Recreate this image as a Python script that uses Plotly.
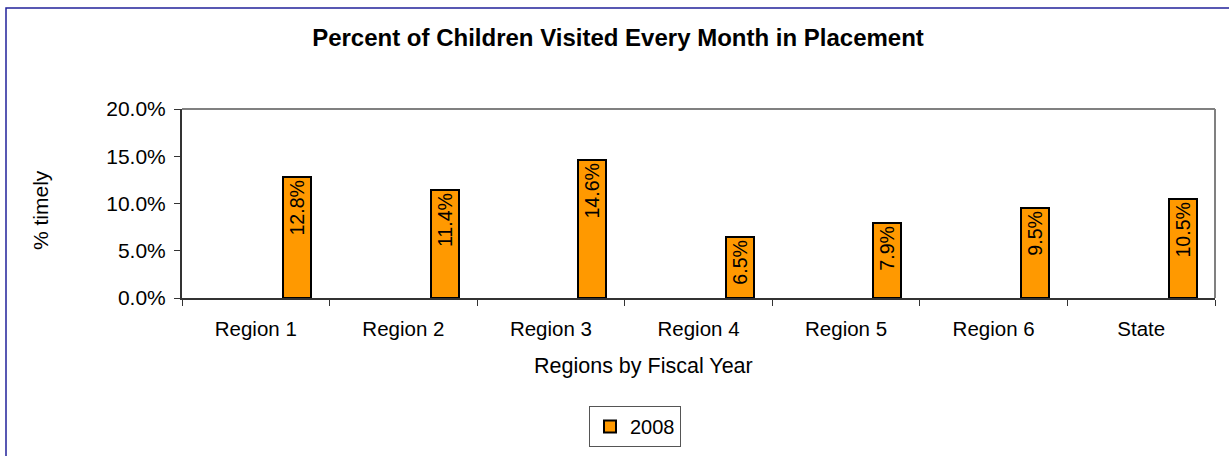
import plotly.graph_objects as go

categories = ["Region 1", "Region 2", "Region 3", "Region 4", "Region 5", "Region 6", "State"]
values_2008 = [0.128, 0.114, 0.146, 0.065, 0.079, 0.095, 0.105]
series_name = "2008"

W, H = 1229, 456
L, R, T, B = 182, 14, 109, 158
pw, ph = W - L - R, H - T - B

def px_x(x):
    return (x - L) / pw

def px_y(y):
    return (H - B - y) / ph

FONT = "Liberation Sans, Arial, sans-serif"

fig = go.Figure()
fig.add_trace(go.Bar(
    x=categories,
    y=values_2008,
    name=series_name,
    width=0.19,
    offset=0.185,
    marker=dict(color="#FF9900", line=dict(color="#000000", width=2)),
    text=[f"{v*100:.1f}%" for v in values_2008],
    textposition="inside",
    insidetextanchor="end",
    textangle=-90,
    textfont=dict(family=FONT, size=20.5, color="#000000"),
    showlegend=True,
))

fig.update_layout(
    width=W, height=H,
    margin=dict(l=L, r=R, t=T, b=B, pad=0, autoexpand=False),
    paper_bgcolor="white",
    plot_bgcolor="white",
    font=dict(family=FONT, size=20.5, color="#000000"),
    showlegend=True,
    legend=dict(
        x=635 / W, xref="container", xanchor="center",
        y=1 - 426.5 / H, yref="container", yanchor="middle",
        bordercolor="#555555", borderwidth=1, bgcolor="white",
        font=dict(family=FONT, size=20, color="#000000"),
        itemwidth=30,
    ),
    title=dict(
        text="<b>Percent of Children Visited Every Month in Placement</b>",
        x=px_x(618), xref="paper", xanchor="center",
        y=1 - 38 / H, yref="container", yanchor="middle",
        font=dict(family=FONT, size=24, color="#000000"),
    ),
    bargap=0,
)

fig.update_xaxes(
    type="category",
    showline=True, linecolor="#333333", linewidth=2,
    ticks="outside", tickson="boundaries", ticklen=6, tickcolor="#333333", tickwidth=1,
    ticklabelstandoff=11,
    showgrid=False, zeroline=False,
    tickfont=dict(family=FONT, size=20.5, color="#000000"),
)
fig.update_yaxes(
    range=[0, 0.2], dtick=0.05, tickformat=".1%",
    showline=True, linecolor="#333333", linewidth=2,
    ticks="outside", ticklen=6, tickcolor="#333333", tickwidth=1,
    ticklabelstandoff=4,
    showgrid=False, zeroline=False,
    tickfont=dict(family=FONT, size=21, color="#000000"),
)

# plot-area top/right border (gray) and outer chart frame (blue)
fig.add_shape(type="line", xref="paper", yref="paper", x0=0, x1=1, y0=1, y1=1,
              line=dict(color="#808080", width=2))
fig.add_shape(type="line", xref="paper", yref="paper", x0=1, x1=1, y0=0, y1=1,
              line=dict(color="#808080", width=2))
fig.add_shape(type="rect", xref="paper", yref="paper",
              x0=px_x(6), x1=px_x(1240), y0=px_y(470), y1=px_y(8),
              line=dict(color="#22229A", width=1.5), layer="below")

fig.add_annotation(text="Regions by Fiscal Year", xref="paper", yref="paper",
                   x=px_x(643), y=px_y(366), xanchor="center", yanchor="middle",
                   showarrow=False, font=dict(family=FONT, size=21.5, color="#000000"))
fig.add_annotation(text="% timely", xref="paper", yref="paper",
                   x=px_x(40), y=px_y(210), xanchor="center", yanchor="middle",
                   textangle=-90, showarrow=False,
                   font=dict(family=FONT, size=21, color="#000000"))

fig.write_html("out.html", config={"displayModeBar": False},
               post_script="document.body.style.margin='0';document.body.style.overflow='hidden';")
